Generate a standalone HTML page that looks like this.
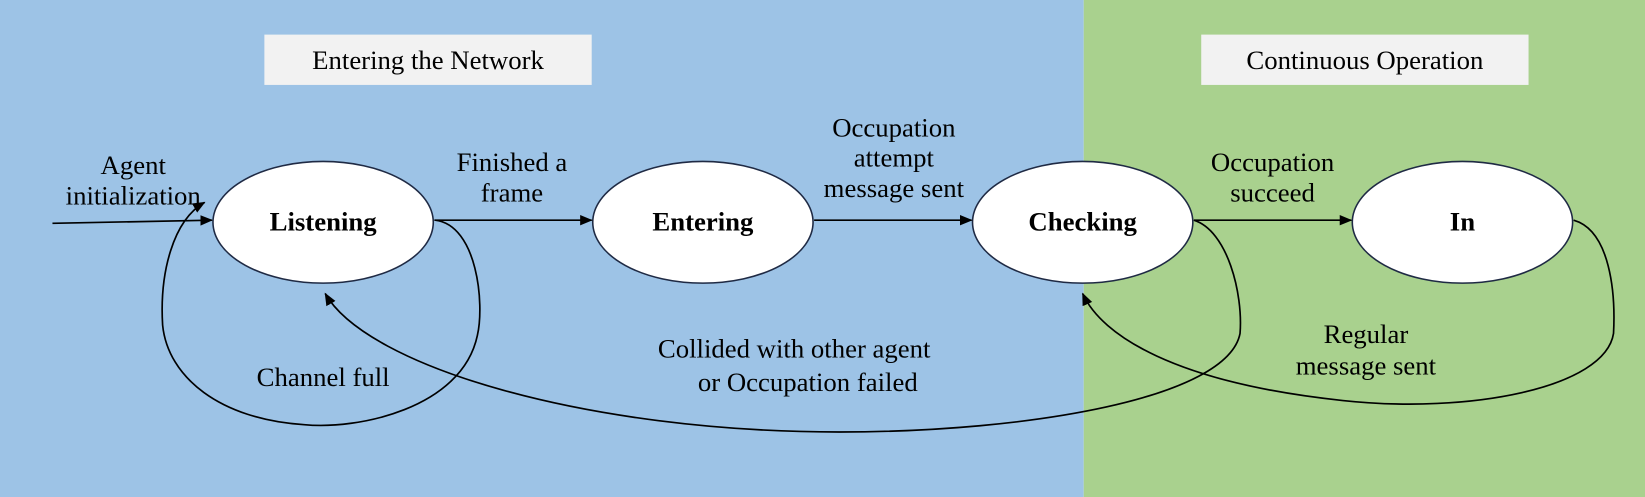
<!DOCTYPE html>
<html><head><meta charset="utf-8"><style>
html,body{margin:0;padding:0;width:1645px;height:497px;overflow:hidden}
svg{display:block}
text{font-family:"Liberation Serif",serif;font-size:25.5px;fill:#000;text-anchor:middle}
.b{font-weight:bold;font-size:25.5px}
</style></head><body>
<svg width="1645" height="497" viewBox="0 0 1568 474" preserveAspectRatio="none">
<defs><marker id="a" markerWidth="12" markerHeight="12" refX="11" refY="6" orient="auto" markerUnits="userSpaceOnUse"><path d="M0,1 L12,6 L0,11 z" fill="#000"/></marker></defs>
<rect x="0" y="0" width="1033" height="474" fill="#9dc3e6"/>
<rect x="1033" y="0" width="535" height="474" fill="#a9d18e"/>
<rect x="252" y="33" width="312" height="48" fill="#f2f2f2"/>
<text x="408" y="66">Entering the Network</text>
<rect x="1145" y="33" width="312" height="48" fill="#f2f2f2"/>
<text x="1301" y="66">Continuous Operation</text>
<g fill="#fff" stroke="#1f2a44" stroke-width="1.5">
<ellipse cx="308" cy="212" rx="105" ry="58"/>
<ellipse cx="670" cy="212" rx="105" ry="58"/>
<ellipse cx="1032" cy="212" rx="105" ry="58"/>
<ellipse cx="1394" cy="212" rx="105" ry="58"/>
</g>
<text class="b" x="308" y="220">Listening</text>
<text class="b" x="670" y="220">Entering</text>
<text class="b" x="1032" y="220">Checking</text>
<text class="b" x="1394" y="220">In</text>
<g stroke="#000" stroke-width="1.6" fill="none" marker-end="url(#a)">
<path d="M50,213 L202,210"/>
<path d="M414,210 L564,210"/>
<path d="M776,210 L926,210"/>
<path d="M1138,210 L1288,210"/>
<path d="M415,210 C455,215 462,290 455,320 C440,390 340,410 290,405 C210,400 160,360 155,310 C152,260 165,210 195,193"/>
<path d="M1138,210 C1170,220 1185,280 1182,318 C1170,380 980,412 800,412 C560,412 350,350 310,280"/>
<path d="M1500,210 C1535,220 1540,280 1538,318 C1530,370 1400,395 1280,382 C1120,365 1050,320 1032,280"/>
</g>
<text x="127" y="166">Agent</text>
<text x="127" y="195">initialization</text>
<text x="488" y="163">Finished a</text>
<text x="488" y="192">frame</text>
<text x="852" y="130">Occupation</text>
<text x="852" y="159">attempt</text>
<text x="852" y="188">message sent</text>
<text x="1213" y="163">Occupation</text>
<text x="1213" y="192">succeed</text>
<text x="308" y="368">Channel full</text>
<text x="757" y="341">Collided with other agent</text>
<text x="770" y="373">or Occupation failed</text>
<text x="1302" y="327">Regular</text>
<text x="1302" y="357">message sent</text>
</svg>
</body></html>
